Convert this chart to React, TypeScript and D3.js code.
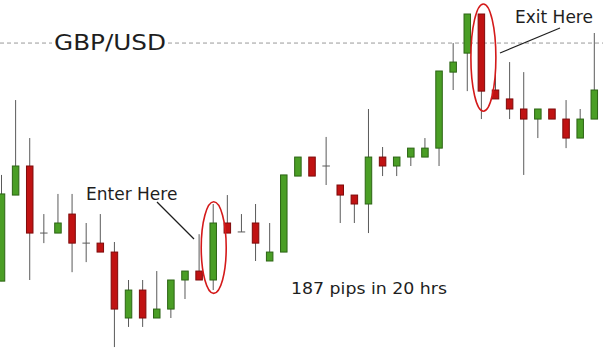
import React from "react";
import * as d3 from "d3";

// GBP/USD hourly candles (open, high, low, close)
const opens = [
  1.5368, 1.5445, 1.5471, 1.5411, 1.5411, 1.5428, 1.5402, 1.5402, 1.5394, 1.5335,
  1.5360, 1.5335, 1.5343, 1.5369, 1.5377, 1.5369, 1.5420, 1.5412, 1.5420, 1.5386,
  1.5394, 1.5462, 1.5479, 1.5471, 1.5454, 1.5445, 1.5437, 1.5479, 1.5471, 1.5479,
  1.5479, 1.5487, 1.5555, 1.5572, 1.5607, 1.5539, 1.5531, 1.5522, 1.5513, 1.5522,
  1.5513, 1.5496, 1.5513,
];
const highs = [
  1.5463, 1.5530, 1.5496, 1.5428, 1.5446, 1.5446, 1.5420, 1.5428, 1.5403, 1.5369,
  1.5369, 1.5377, 1.5369, 1.5377, 1.5410, 1.5437, 1.5445, 1.5428, 1.5437, 1.5420,
  1.5463, 1.5479, 1.5479, 1.5497, 1.5454, 1.5445, 1.5522, 1.5488, 1.5479, 1.5487,
  1.5496, 1.5556, 1.5581, 1.5607, 1.5607, 1.5555, 1.5564, 1.5555, 1.5522, 1.5522,
  1.5530, 1.5522, 1.5590,
];
const lows = [
  1.5368, 1.5445, 1.5369, 1.5402, 1.5411, 1.5376, 1.5385, 1.5394, 1.5309, 1.5327,
  1.5327, 1.5335, 1.5335, 1.5352, 1.5369, 1.5360, 1.5411, 1.5412, 1.5386, 1.5386,
  1.5394, 1.5462, 1.5462, 1.5454, 1.5420, 1.5420, 1.5411, 1.5462, 1.5462, 1.5471,
  1.5479, 1.5471, 1.5539, 1.5538, 1.5513, 1.5531, 1.5513, 1.5463, 1.5496, 1.5513,
  1.5487, 1.5496, 1.5513,
];
const closes = [
  1.5446, 1.5471, 1.5411, 1.5411, 1.5420, 1.5402, 1.5402, 1.5394, 1.5343, 1.5360,
  1.5335, 1.5343, 1.5369, 1.5377, 1.5369, 1.5420, 1.5411, 1.5412, 1.5402, 1.5394,
  1.5463, 1.5479, 1.5462, 1.5471, 1.5445, 1.5437, 1.5479, 1.5471, 1.5479, 1.5487,
  1.5487, 1.5556, 1.5564, 1.5607, 1.5538, 1.5531, 1.5522, 1.5513, 1.5522, 1.5513,
  1.5496, 1.5513, 1.5539,
];

const resistanceLevel = 1.5581;
const pairLabel = "GBP/USD";
const entryIndex = 15;
const exitIndex = 34;
const entryEllipse = [1.5439, 1.5357]; // top, bottom
const exitEllipse = [1.5616, 1.5520];
const resultLabel = "187 pips in 20 hrs";

const W = 603;
const H = 350;

const x = d3
  .scalePoint<number>()
  .domain(d3.range(opens.length))
  .range([1.5, 594.3]);
const y = d3.scaleLinear().domain([1.542, 1.5607]).range([223, 14]);

const GREEN = "#4a9e25";
const GREEN_EDGE = "#2c6414";
const RED = "#c01212";
const RED_EDGE = "#7e0a0a";
const WICK = "#5a5a5a";
const FONT = "'DejaVu Sans', Verdana, sans-serif";
const BODY_W = 6.5;

export default function App() {
  const candles = opens.map((o, i) => ({
    i,
    o,
    h: highs[i],
    l: lows[i],
    c: closes[i],
  }));
  const ry = (top: number, bottom: number) => (y(bottom) - y(top)) / 2;
  const cy = (top: number, bottom: number) => (y(bottom) + y(top)) / 2;

  return (
    <svg
      width={W}
      height={H}
      style={{ position: "absolute", left: 0, top: 0, background: "#fff" }}
    >
      <rect width={W} height={H} fill="#fff" />
      {/* resistance line */}
      <line
        x1={0}
        x2={W}
        y1={y(resistanceLevel)}
        y2={y(resistanceLevel)}
        stroke="#9a9a9a"
        strokeWidth={1}
        strokeDasharray="4 3"
      />
      <rect x={52} y={y(resistanceLevel) - 6} width={116} height={12} fill="#fff" />
      <text
        x={54}
        y={50}
        fontFamily={FONT}
        fontSize={22}
        fill="#1e1e1e"
        textLength={112}
        lengthAdjust="spacingAndGlyphs"
      >
        {pairLabel}
      </text>

      {candles.map((d) => {
        const up = d.c > d.o;
        const doji = d.c === d.o;
        const cx = x(d.i)!;
        const top = y(Math.max(d.o, d.c));
        const bot = y(Math.min(d.o, d.c));
        return (
          <g key={d.i}>
            <line
              x1={cx}
              x2={cx}
              y1={y(d.h)}
              y2={y(d.l)}
              stroke={WICK}
              strokeWidth={1}
            />
            {doji ? (
              <line
                x1={cx - BODY_W / 2 - 0.5}
                x2={cx + BODY_W / 2 + 0.5}
                y1={top}
                y2={top}
                stroke={WICK}
                strokeWidth={1}
              />
            ) : (
              <rect
                x={cx - BODY_W / 2}
                y={top}
                width={BODY_W}
                height={bot - top}
                fill={up ? GREEN : RED}
                stroke={up ? GREEN_EDGE : RED_EDGE}
                strokeWidth={1}
              />
            )}
          </g>
        );
      })}

      {/* entry annotation */}
      <ellipse
        cx={x(entryIndex)! + 0.5}
        cy={cy(entryEllipse[0], entryEllipse[1])}
        rx={12.5}
        ry={ry(entryEllipse[0], entryEllipse[1])}
        fill="none"
        stroke="#d41a1a"
        strokeWidth={1.6}
      />
      <text x={86} y={200} fontFamily={FONT} fontSize={17} fill="#1e1e1e">
        Enter Here
      </text>
      <line x1={157} y1={202} x2={194} y2={239} stroke="#1e1e1e" strokeWidth={1.2} />

      {/* exit annotation */}
      <ellipse
        cx={x(exitIndex)! + 2}
        cy={cy(exitEllipse[0], exitEllipse[1])}
        rx={12.5}
        ry={ry(exitEllipse[0], exitEllipse[1])}
        fill="none"
        stroke="#d41a1a"
        strokeWidth={1.6}
      />
      <text x={515} y={23} fontFamily={FONT} fontSize={17} fill="#1e1e1e">
        Exit Here
      </text>
      <line x1={500} y1={53} x2={560} y2={28} stroke="#1e1e1e" strokeWidth={1.2} />

      <text
        x={291}
        y={294}
        fontFamily={FONT}
        fontSize={16.5}
        fill="#1e1e1e"
        textLength={156}
        lengthAdjust="spacingAndGlyphs"
      >
        {resultLabel}
      </text>
    </svg>
  );
}
